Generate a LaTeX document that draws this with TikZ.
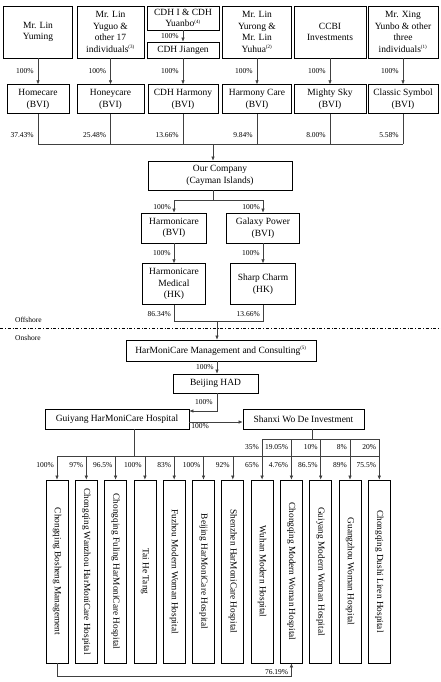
\documentclass[tikz,border=0pt]{standalone}
\usepackage{graphicx}
\usepackage{fontspec}
\setmainfont{Liberation Serif}
\usetikzlibrary{positioning, calc, arrows.meta}
\newcommand{\fnote}[1]{\textsuperscript{\fontsize{5}{6}\selectfont(#1)}}

\begin{document}
\begin{tikzpicture}[x=1pt, y=-1pt,
    box/.style={draw, line width=0.7pt, align=center, inner sep=1pt, font=\fontsize{9.5}{11.5}\selectfont},
    vbox/.style={draw, line width=0.7pt, minimum width=22pt, minimum height=183pt, inner sep=0pt, font=\fontsize{9.3}{11}\selectfont},
    pct/.style={font=\fontsize{7.5}{9}\selectfont, inner sep=1pt, anchor=east},
    link/.style={draw=black!75, line width=0.6pt},
    >={Latex[length=4pt, width=3.5pt]}
]
    \useasboundingbox (0,0) rectangle (441,682);

    % shareholders
    \node[box, minimum width=69pt, minimum height=52pt] (lyuming) at (38,32) {Mr. Lin\\Yuming};
    \node[box, minimum width=67pt, minimum height=52pt] (lyuguo) at (110.5,32) {Mr. Lin\\Yuguo \&\\other 17\\individuals\fnote{3}};
    \node[box, minimum width=72pt, minimum height=24pt] (cdhone) at (183,18) {CDH I \& CDH\\Yuanbo\fnote{4}};
    \node[box, minimum width=72pt, minimum height=16pt] (cdhjiangen) at (183,50) {CDH Jiangen};
    \node[box, minimum width=69pt, minimum height=52pt] (lyurong) at (257,32) {Mr. Lin\\Yurong \&\\Mr. Lin\\Yuhua\fnote{2}};
    \node[box, minimum width=72pt, minimum height=52pt] (ccbi) at (330,32) {CCBI\\Investments};
    \node[box, minimum width=70pt, minimum height=52pt] (xing) at (403,32) {Mr. Xing\\Yunbo \& other\\three\\individuals\fnote{1}};

    % BVI holding companies
    \node[box, minimum width=62pt, minimum height=29pt, below=26pt of lyuming] (homecare) {Homecare\\(BVI)};
    \node[box, minimum width=67pt, minimum height=29pt, below=26pt of lyuguo] (honeycare) {Honeycare\\(BVI)};
    \node[box, minimum width=70pt, minimum height=29pt, below=26pt of cdhjiangen] (cdhharmony) {CDH Harmony\\(BVI)};
    \node[box, minimum width=69pt, minimum height=29pt, below=26pt of lyurong] (harmonycare) {Harmony Care\\(BVI)};
    \node[box, minimum width=72pt, minimum height=29pt, below=26pt of ccbi] (mightysky) {Mighty Sky\\(BVI)};
    \node[box, minimum width=70pt, minimum height=29pt, below=26pt of xing] (classic) {Classic Symbol\\(BVI)};

    \draw[link, ->] (lyuming) -- node[pct, xshift=-3pt] {100\%} (homecare);
    \draw[link, ->] (lyuguo) -- node[pct, xshift=-3pt] {100\%} (honeycare);
    \draw[link, ->] (cdhone) -- node[pct, xshift=-3pt] {100\%} (cdhjiangen);
    \draw[link, ->] (cdhjiangen) -- node[pct, xshift=-3pt] {100\%} (cdhharmony);
    \draw[link, ->] (lyurong) -- node[pct, xshift=-3pt] {100\%} (harmonycare);
    \draw[link, ->] (ccbi) -- node[pct, xshift=-3pt] {100\%} (mightysky);
    \draw[link, ->] (xing) -- node[pct, xshift=-3pt] {100\%} (classic);

    % into the listed company
    \node[box, minimum width=144pt, minimum height=29pt] (ourco) at (220,175.5) {Our Company\\(Cayman Islands)};
    \coordinate (topbar) at (213,144);
    \draw[link] (homecare) -- (homecare |- topbar) node[pct, pos=0.7, xshift=-3pt] {37.43\%};
    \draw[link] (honeycare) -- (honeycare |- topbar) node[pct, pos=0.7, xshift=-3pt] {25.48\%};
    \draw[link] (cdhharmony) -- (cdhharmony |- topbar) node[pct, pos=0.7, xshift=-3pt] {13.66\%};
    \draw[link] (harmonycare) -- (harmonycare |- topbar) node[pct, pos=0.7, xshift=-3pt] {9.84\%};
    \draw[link] (mightysky) -- (mightysky |- topbar) node[pct, pos=0.7, xshift=-3pt] {8.00\%};
    \draw[link] (classic) -- (classic |- topbar) node[pct, pos=0.7, xshift=-3pt] {5.58\%};
    \draw[link] (homecare |- topbar) -- (classic |- topbar);
    \draw[link, ->] (topbar) -- (topbar |- ourco.north);

    % offshore chain
    \node[box, minimum width=65pt, minimum height=30pt] (harmbvi) at (174,228) {Harmonicare\\(BVI)};
    \node[box, minimum width=73pt, minimum height=30pt] (galaxy) at (263,228) {Galaxy Power\\(BVI)};
    \node[box, minimum width=63pt, minimum height=41pt, below=20pt of harmbvi] (medical) {Harmonicare\\Medical\\(HK)};
    \node[box, minimum width=65pt, minimum height=41pt, below=20pt of galaxy] (sharp) {Sharp Charm\\(HK)};

    \coordinate (cobar) at (213,200);
    \draw[link] (cobar |- ourco.south) -- (cobar);
    \draw[link, ->] (cobar) -| (harmbvi);
    \draw[link, ->] (cobar) -| (galaxy);
    \node[pct] at ($(harmbvi.north)+(-2,-6)$) {100\%};
    \node[pct] at ($(galaxy.north)+(-2,-6)$) {100\%};
    \draw[link, ->] (harmbvi) -- node[pct, xshift=-2pt] {100\%} (medical);
    \draw[link, ->] (galaxy) -- node[pct, xshift=-2pt] {100\%} (sharp);

    \coordinate (hkbar) at (217,321);
    \draw[link] (medical) |- (hkbar);
    \draw[link] (sharp) |- (hkbar);
    \node[pct] at ($(medical.south)+(-2,9)$) {86.34\%};
    \node[pct] at ($(sharp.south)+(-2,9)$) {13.66\%};

    % offshore / onshore
    \draw[line width=0.5pt, dash pattern=on 3pt off 2pt on 0.6pt off 2pt] (0,328) -- (441,328);
    \node[pct, anchor=west] (offshore) at (14,320) {Offshore};
    \node[pct, anchor=west] (onshore) at (14,338) {Onshore};

    % onshore chain
    \node[box, minimum width=190pt, minimum height=21pt] (mgmt) at (221,350.5) {HarMoniCare Management and Consulting\fnote{5}};
    \node[box, minimum width=85pt, minimum height=19pt] (had) at (215.5,383.5) {Beijing HAD};
    \node[box, minimum width=144pt, minimum height=20pt] (guiyang) at (117,419) {Guiyang HarMoniCare Hospital};
    \node[box, minimum width=121pt, minimum height=20pt] (shanxi) at (303.5,419) {Shanxi Wo De Investment};

    \draw[link, ->] (hkbar) -- (hkbar |- mgmt.north);
    \draw[link, ->] (mgmt.south -| hkbar) -- node[pct, xshift=-2pt] {100\%} (had.north -| hkbar);
    \coordinate (hadturn) at (217,411);
    \draw[link, ->] (had.south -| hadturn) -- node[pct, xshift=-3pt] {100\%} (hadturn) -- (hadturn -| guiyang.east);
    \draw[link, ->] ($(guiyang.east)+(0,3)$) -- node[pct, pos=0.2, anchor=north] {100\%} ($(shanxi.west)+(0,3)$);

    % hospitals
    \foreach \name [count=\i] in {Chongqing Bosheng Management, Chongqing Wanzhou HarMoniCare Hospital,
        Chongqing Fuling HarMoniCare Hospital, Tai He Tang, Fuzhou Modern Woman Hospital,
        Beijing HarMoniCare Hospital, Shenzhen HarMoniCare Hospital, Wuhan Modern Hospital,
        Chongqing Modern Woman Hospital, Guiyang Modern Woman Hospital, Guangzhou Woman Hospital,
        Chongqing Dushi Liren Hospital}
        \node[vbox] (h\i) at ({57+(\i-1)*29.3},571.5) {\rotatebox{-90}{\name}};

    \coordinate (sxbar) at (312,439);
    \coordinate (gybar) at (134,456);
    \draw[link] (shanxi.south -| sxbar) -- (sxbar);
    \draw[link] (guiyang.south -| gybar) -- (gybar);
    \draw[link] (h8.north |- sxbar) -- (h12.north |- sxbar);
    \draw[link] (h1.north |- gybar) -- (h12.north |- gybar);
    \foreach \i in {8,...,12}
        \draw[link] (h\i.north |- sxbar) -- (h\i.north |- gybar);
    \foreach \p [count=\i] in {100\%, 97\%, 96.5\%, 100\%, 83\%, 100\%, 92\%, 65\%, 4.76\%, 86.5\%, 89\%, 75.5\%} {
        \draw[link, ->] (h\i.north |- gybar) -- (h\i);
        \node[pct] at ($(h\i.north |- gybar)+(-2,9)$) {\p};
    }
    \foreach \p [count=\i from 8] in {35\%, 19.05\%, 10\%, 8\%, 20\%}
        \node[pct] at ($(h\i.north |- sxbar)+(-2,8)$) {\p};

    % Bosheng stake in Chongqing Modern Woman
    \coordinate (botbar) at (0,676);
    \draw[link, ->] (h1.south) -- (h1.south |- botbar) -| (h9.south);
    \node[pct] at ($(h9.south)+(-2,9)$) {76.19\%};
\end{tikzpicture}
\end{document}
